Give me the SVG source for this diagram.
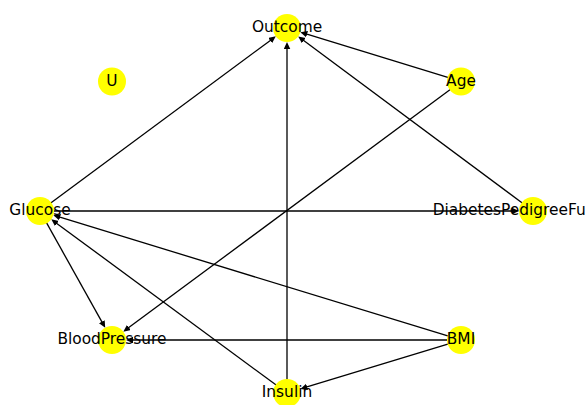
<svg xmlns="http://www.w3.org/2000/svg" width="585" height="405" viewBox="0 0 585 405">
  <style>
    .bg { fill: #ffffff; }
    .edge { stroke: #000000; stroke-width: 1.3; fill: none; marker-end: url(#head); }
    .node circle { fill: #ffff00; stroke: none; }
    .node text { font-family: "DejaVu Sans", "Liberation Sans", sans-serif; font-size: 15.4px; fill: #000000; text-anchor: middle; }
  </style>
  <defs>
    <marker id="head" markerUnits="userSpaceOnUse" markerWidth="8" markerHeight="7" refX="1" refY="3.25" orient="auto">
      <path d="M0,0 L7,3.25 L0,6.5 Z" fill="#000000"/>
    </marker>
  </defs>
  <rect class="bg" x="0" y="0" width="585" height="405"/>

  <!-- directed edges -->
  <g id="edges">
    <line class="edge" x1="50.4" y1="203.3" x2="271.0" y2="39.9"/>
    <line class="edge" x1="287" y1="380" x2="287" y2="48"/>
    <line class="edge" x1="448.6" y1="77.7" x2="306.1" y2="33.9"/>
    <line class="edge" x1="522.6" y1="203.2" x2="303.0" y2="40.0"/>
    <line class="edge" x1="54" y1="211" x2="513" y2="211"/>
    <line class="edge" x1="46.3" y1="222.4" x2="102.3" y2="322.6"/>
    <line class="edge" x1="450.6" y1="89.2" x2="128.1" y2="328.1"/>
    <line class="edge" x1="448" y1="340" x2="132" y2="340"/>
    <line class="edge" x1="448.6" y1="336.2" x2="59.1" y2="216.9"/>
    <line class="edge" x1="276.5" y1="385.3" x2="56.1" y2="222.9"/>
    <line class="edge" x1="448.6" y1="343.8" x2="306.1" y2="387.2"/>
  </g>

  <g id="node-outcome" class="node">
    <circle cx="287" cy="28" r="14"/>
    <text x="287" y="32">Outcome</text>
  </g>
  <g id="node-age" class="node">
    <circle cx="461" cy="81.5" r="14"/>
    <text x="461" y="85.5">Age</text>
  </g>
  <g id="node-dpf" class="node">
    <circle cx="533" cy="211" r="14"/>
    <text x="533" y="215">DiabetesPedigreeFunction</text>
  </g>
  <g id="node-bmi" class="node">
    <circle cx="461" cy="340" r="14"/>
    <text x="461" y="344">BMI</text>
  </g>
  <g id="node-insulin" class="node">
    <circle cx="287" cy="393" r="14"/>
    <text x="287" y="397">Insulin</text>
  </g>
  <g id="node-bloodpressure" class="node">
    <circle cx="112" cy="340" r="14"/>
    <text x="112" y="344">BloodPressure</text>
  </g>
  <g id="node-glucose" class="node">
    <circle cx="40" cy="211" r="14"/>
    <text x="40" y="215">Glucose</text>
  </g>
  <g id="node-u" class="node">
    <circle cx="112" cy="81.5" r="14"/>
    <text x="112" y="85.5">U</text>
  </g>
</svg>
